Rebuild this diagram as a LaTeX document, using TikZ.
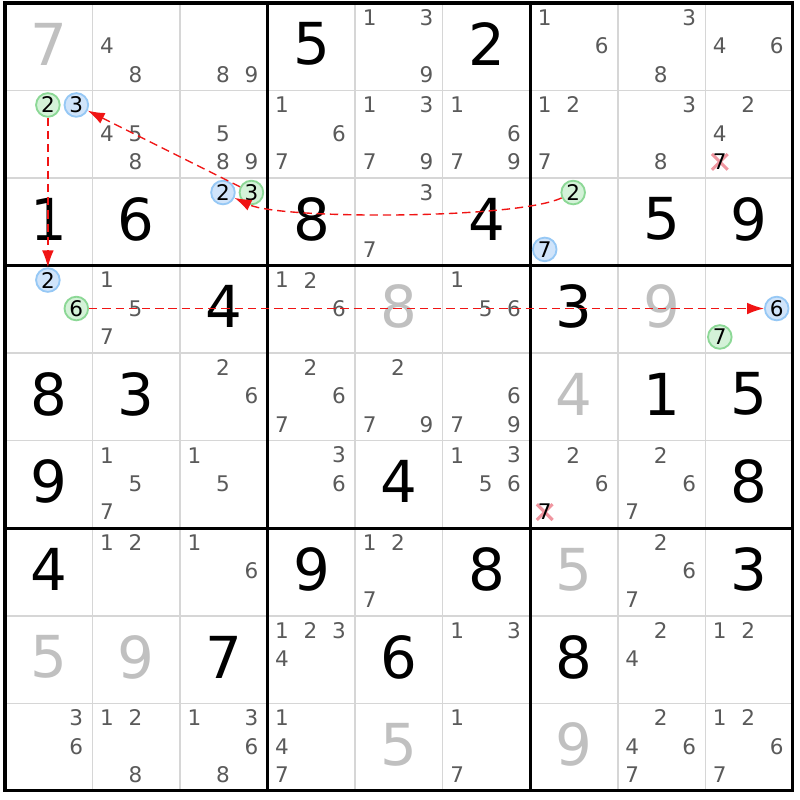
\documentclass[tikz,border=0pt]{standalone}
\usepackage{fontspec}
\setmainfont{DejaVu Sans}
\usetikzlibrary{arrows.meta}

\definecolor{candgray}{RGB}{90,90,90}
\definecolor{givengray}{RGB}{192,192,192}
\definecolor{thingrid}{RGB}{214,214,214}
\definecolor{onfill}{RGB}{212,242,216}
\definecolor{ondraw}{RGB}{140,216,150}
\definecolor{offfill}{RGB}{208,228,250}
\definecolor{offdraw}{RGB}{150,200,245}
\definecolor{linkred}{RGB}{240,20,20}
\definecolor{crossred}{RGB}{240,150,160}

\tikzset{
  cellline/.style={draw=thingrid, line width=0.5pt},
  boxline/.style={draw=black, line width=1pt},
  big/.style={font=\fontsize{18.8}{20}\selectfont, inner sep=0pt},
  given/.style={big, text=givengray},
  cand/.style={font=\fontsize{7}{8}\selectfont, text=candgray, inner sep=0pt},
  oncand/.style={circle, draw=ondraw, fill=onfill, line width=0.6pt, minimum size=0.27cm, inner sep=0pt, font=\fontsize{7}{8}\selectfont},
  offcand/.style={oncand, draw=offdraw, fill=offfill},
  elim/.style={draw=crossred, line width=1pt},
  link/.style={draw=linkred, dash pattern=on 2.7pt off 1.6pt, line width=0.45pt, -{Latex[length=5.5pt,width=3.8pt]}},
}

\begin{document}
\begin{tikzpicture}[x=1cm,y=1cm]
    \useasboundingbox (-0.057,0.034) rectangle (9.081,-9.103);
    \fill[white] (-0.057,0.034) rectangle (9.081,-9.103);

    % grid
    \foreach \i in {1,...,8} {
        \draw[cellline] (\i,0) -- (\i,-9);
        \draw[cellline] (0,-\i) -- (9,-\i);
    }
    \foreach \i in {3,6} {
        \draw[boxline] (\i,0) -- (\i,-9);
        \draw[boxline] (0,-\i) -- (9,-\i);
    }
    \draw[boxline] (0,0) rectangle (9,-9);

    % solved and given cells
    \foreach \r/\c/\v in {0/3/5, 0/5/2, 2/0/1, 2/1/6, 2/3/8, 2/5/4, 2/7/5, 2/8/9, 3/2/4, 3/6/3,
                          4/0/8, 4/1/3, 4/7/1, 4/8/5, 5/0/9, 5/4/4, 5/8/8, 6/0/4, 6/3/9, 6/5/8,
                          6/8/3, 7/2/7, 7/4/6, 7/6/8}
        \node[big] (v\r\c) at (\c+0.5,-\r-0.47) {\v};
    \foreach \r/\c/\v in {0/0/7, 3/4/8, 3/7/9, 4/6/4, 6/6/5, 7/0/5, 7/1/9, 8/4/5, 8/6/9}
        \node[given] (v\r\c) at (\c+0.5,-\r-0.47) {\v};

    % candidates
    \foreach \r/\c/\ds in {0/1/{4,8}, 0/2/{8,9}, 0/4/{1,3,9}, 0/6/{1,6}, 0/7/{3,8}, 0/8/{4,6},
                           1/1/{4,5,8}, 1/2/{5,8,9}, 1/3/{1,6,7}, 1/4/{1,3,7,9}, 1/5/{1,6,7,9},
                           1/6/{1,2,7}, 1/7/{3,8}, 1/8/{2,4}, 2/4/{3,7},
                           3/1/{1,5,7}, 3/3/{1,2,6}, 3/5/{1,5,6},
                           4/2/{2,6}, 4/3/{2,6,7}, 4/4/{2,7,9}, 4/5/{6,7,9},
                           5/1/{1,5,7}, 5/2/{1,5}, 5/3/{3,6}, 5/5/{1,3,5,6}, 5/6/{2,6}, 5/7/{2,6,7},
                           6/1/{1,2}, 6/2/{1,6}, 6/4/{1,2,7}, 6/7/{2,6,7},
                           7/3/{1,2,3,4}, 7/5/{1,3}, 7/7/{2,4}, 7/8/{1,2},
                           8/0/{3,6}, 8/1/{1,2,8}, 8/2/{1,3,6,8}, 8/3/{1,4,7}, 8/5/{1,7},
                           8/7/{2,4,6,7}, 8/8/{1,2,6,7}}
        \foreach \d in \ds
            \node[cand] (n\r\c\d) at ({\c+0.165+0.325*mod(\d-1,3)},{-\r-0.165-0.325*floor((\d-1)/3)}) {\d};

    % eliminated candidates
    \foreach \r/\c/\d in {1/8/7, 5/6/7} {
        \coordinate (x\r\c\d) at ({\c+0.165+0.325*mod(\d-1,3)},{-\r-0.165-0.325*floor((\d-1)/3)});
        \draw[elim] ([shift={(-0.09,-0.09)}]x\r\c\d) -- ([shift={(0.09,0.09)}]x\r\c\d);
        \draw[elim] ([shift={(-0.09,0.09)}]x\r\c\d) -- ([shift={(0.09,-0.09)}]x\r\c\d);
        \node[cand, text=black] (n\r\c\d) at (x\r\c\d) {\d};
    }

    % chain
    \foreach \r/\c/\d/\s in {1/0/2/oncand, 1/0/3/offcand, 2/2/2/offcand, 2/2/3/oncand, 2/6/2/oncand,
                             2/6/7/offcand, 3/0/2/offcand, 3/0/6/oncand, 3/8/6/offcand, 3/8/7/oncand}
        \node[\s] (c\r\c\d) at ({\c+0.165+0.325*mod(\d-1,3)},{-\r-0.165-0.325*floor((\d-1)/3)}) {\d};

    \draw[link] (c102) -- (c302);
    \draw[link] (c223) -- (c103);
    \draw[link] (c262) to[out=205,in=-25,looseness=0.4] (c222);
    \draw[link] (c306) -- (c386);
\end{tikzpicture}
\end{document}
